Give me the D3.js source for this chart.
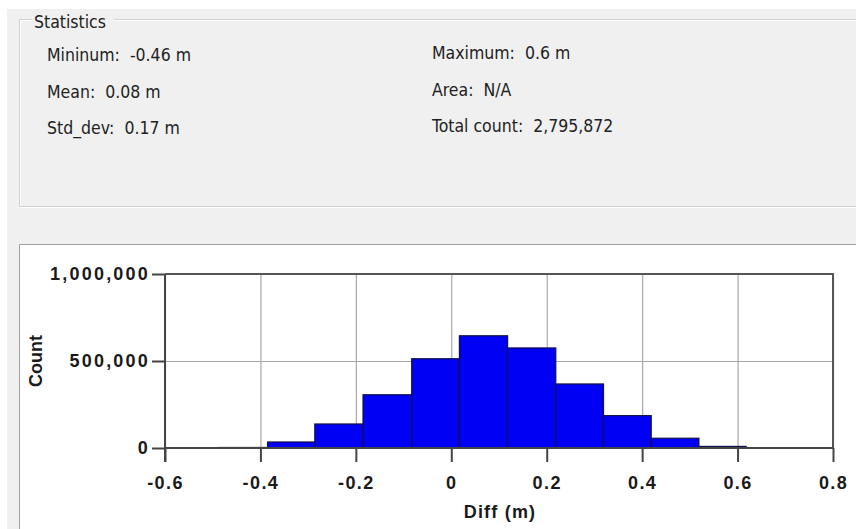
<!DOCTYPE html>
<html>
<head>
<meta charset="utf-8">
<script src="https://cdn.jsdelivr.net/npm/d3@7"></script>
<style>
  html, body { margin: 0; padding: 0; background: #ffffff; }
  svg { display: block; }
</style>
</head>
<body>
<svg id="view" width="856" height="529"></svg>
<script>
// Summary statistics shown in the group box
const statLabelsLeft = ["Mininum:  -0.46 m", "Mean:  0.08 m", "Std_dev:  0.17 m"];
const statLabelsRight = ["Maximum:  0.6 m", "Area:  N/A", "Total count:  2,795,872"];

// Histogram bins of Diff (m): lower edge, upper edge, count
const binLo = [-0.585, -0.485, -0.385, -0.286, -0.185, -0.083, 0.017, 0.118, 0.219, 0.319, 0.419, 0.519];
const binHi = [-0.485, -0.385, -0.286, -0.185, -0.083, 0.017, 0.118, 0.219, 0.319, 0.419, 0.519, 0.618];
const binCount = [2000, 3000, 34500, 138000, 306000, 513000, 645000, 575000, 368000, 186000, 56000, 9000];

// Axis ticks
const xTicks = [-0.6, -0.4, -0.2, 0, 0.2, 0.4, 0.6, 0.8];
const yTicks = [0, 500000, 1000000];

const svg = d3.select("#view");
const W = 856, H = 529;

// Window background
svg.append("rect").attr("x", 7).attr("y", 9).attr("width", W - 7).attr("height", H - 9)
  .attr("fill", "#f0f0f0");

// "Statistics" group box frame (etched line)
const gb = svg.append("g");
gb.append("path")
  .attr("d", `M32,19.5 H19.5 V206.5 H${W} M114,19.5 H${W}`)
  .attr("fill", "none").attr("stroke", "#d0d0d0").attr("stroke-width", 1);
gb.append("path")
  .attr("d", `M32,20.5 H20.5 V205.5 M20,207.5 H${W} M114,20.5 H${W}`)
  .attr("fill", "none").attr("stroke", "#ffffff").attr("stroke-width", 1);

const uiFont = "'DejaVu Sans Condensed', 'DejaVu Sans', sans-serif";
gb.append("text").attr("x", 34).attr("y", 28).text("Statistics")
  .attr("font-family", uiFont).attr("font-size", 17.5).attr("fill", "#222");

const rowY = [61, 98, 134];
gb.selectAll("text.sl").data(statLabelsLeft).join("text").attr("class", "sl")
  .attr("x", 47).attr("y", (d, i) => rowY[i]).text(d => d)
  .attr("font-family", uiFont).attr("font-size", 17.5).attr("fill", "#222")
  .style("white-space", "pre");
gb.selectAll("text.sr").data(statLabelsRight).join("text").attr("class", "sr")
  .attr("x", 432).attr("y", (d, i) => rowY[i] - 2).text(d => d)
  .attr("font-family", uiFont).attr("font-size", 17.5).attr("fill", "#222")
  .style("white-space", "pre");

// Chart panel
svg.append("rect").attr("x", 19).attr("y", 244).attr("width", W - 19).attr("height", H - 244)
  .attr("fill", "#ffffff");
svg.append("path").attr("d", `M19.5,${H} V244.5 H${W}`)
  .attr("fill", "none").attr("stroke", "#a0a0a0").attr("stroke-width", 1);

// Plot scales
const x = d3.scaleLinear().domain([-0.6, 0.8]).range([165, 833]);
const y = d3.scaleLinear().domain([0, 1000000]).range([448, 274]);

const chartFont = "'Liberation Sans', Arial, sans-serif";
const plot = svg.append("g");

// Gridlines
plot.append("g").attr("class", "grid-x")
  .attr("transform", `translate(0,${y(0)})`)
  .call(d3.axisBottom(x).tickValues(xTicks).tickSize(-(y(0) - y(1000000))).tickFormat(""))
  .call(g => g.select(".domain").remove())
  .call(g => g.selectAll("line").attr("stroke", "#a8a8a8").attr("stroke-width", 1.2));
plot.append("g").attr("class", "grid-y")
  .attr("transform", `translate(${x(-0.6)},0)`)
  .call(d3.axisLeft(y).tickValues(yTicks).tickSize(-(x(0.8) - x(-0.6))).tickFormat(""))
  .call(g => g.select(".domain").remove())
  .call(g => g.selectAll("line").attr("stroke", "#a8a8a8").attr("stroke-width", 1.2));

// Bars
const bins = binLo.map((lo, i) => ({ lo, hi: binHi[i], count: binCount[i] }));
plot.append("g").selectAll("rect").data(bins).join("rect")
  .attr("x", d => x(d.lo))
  .attr("width", d => x(d.hi) - x(d.lo))
  .attr("y", d => y(d.count))
  .attr("height", d => y(0) - y(d.count))
  .attr("fill", "#0000f5")
  .attr("stroke", "#10104a")
  .attr("stroke-width", 1.2);

// Frame: top and right edges
plot.append("path")
  .attr("d", `M${x(-0.6)},${y(1000000)} H${x(0.8)} V${y(0)}`)
  .attr("fill", "none").attr("stroke", "#555").attr("stroke-width", 2);

const hyphen = f => d => f(d).replace("\u2212", "-");

// Bottom axis
const xAxis = plot.append("g")
  .attr("transform", `translate(0,${y(0)})`)
  .call(d3.axisBottom(x).tickValues(xTicks).tickSize(14).tickPadding(14)
    .tickFormat(hyphen(d => d === 0 ? "0" : d3.format(".1f")(d))));
xAxis.select(".domain").attr("stroke", "#444").attr("stroke-width", 2).attr("d", `M${x(-0.6)},0 H${x(0.8)}`);
xAxis.selectAll("line").attr("stroke", "#444").attr("stroke-width", 2);
xAxis.selectAll("text").attr("font-family", chartFont).attr("font-weight", "bold")
  .attr("font-size", 18).attr("letter-spacing", 1.4).attr("fill", "#1a1a1a");

// Left axis
const yAxis = plot.append("g")
  .attr("transform", `translate(${x(-0.6)},0)`)
  .call(d3.axisLeft(y).tickValues(yTicks).tickSize(13).tickPadding(2)
    .tickFormat(d3.format(",")));
yAxis.select(".domain").attr("stroke", "#444").attr("stroke-width", 2).attr("d", `M0,${y(1000000)} V${y(0) + 14}`);
yAxis.selectAll("line").attr("stroke", "#444").attr("stroke-width", 2);
yAxis.selectAll("text").attr("font-family", chartFont).attr("font-weight", "bold")
  .attr("font-size", 18).attr("letter-spacing", 2.2).attr("fill", "#1a1a1a");

// Axis titles
plot.append("text")
  .attr("transform", `translate(42,${(y(0) + y(1000000)) / 2}) rotate(-90)`)
  .attr("text-anchor", "middle")
  .attr("font-family", chartFont).attr("font-weight", "bold").attr("font-size", 18)
  .attr("fill", "#1a1a1a")
  .text("Count");
plot.append("text")
  .attr("x", 500).attr("y", 518)
  .attr("text-anchor", "middle")
  .attr("font-family", chartFont).attr("font-weight", "bold").attr("font-size", 18)
  .attr("letter-spacing", 1.2).attr("fill", "#1a1a1a")
  .text("Diff (m)");
</script>
</body>
</html>
